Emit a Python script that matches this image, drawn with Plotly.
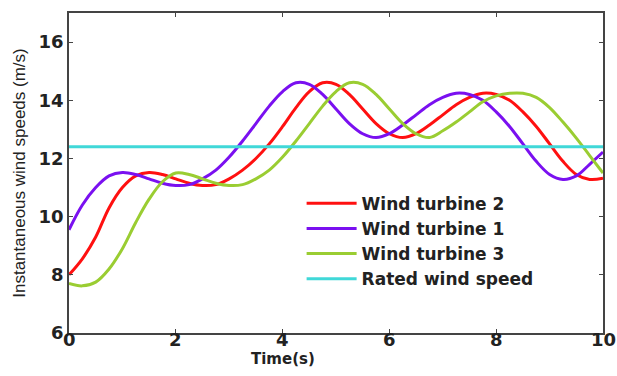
import plotly.graph_objects as go

time_s = [i * 0.25 for i in range(41)]

turbine1 = [9.55, 10.4, 11.0, 11.4, 11.52, 11.45, 11.3, 11.15, 11.07, 11.1,
            11.3, 11.6, 12.05, 12.6, 13.2, 13.8, 14.3, 14.6, 14.55, 14.2,
            13.7, 13.2, 12.85, 12.72, 12.85, 13.15, 13.5, 13.85, 14.1, 14.24,
            14.2, 14.0, 13.6, 13.1, 12.5, 11.9, 11.45, 11.28, 11.4, 11.8, 12.22]

turbine2 = [8.0, 8.55, 9.3, 10.3, 11.0, 11.4, 11.52, 11.45, 11.3, 11.15,
            11.07, 11.1, 11.3, 11.6, 12.0, 12.5, 13.1, 13.75, 14.3, 14.6,
            14.55, 14.2, 13.7, 13.2, 12.85, 12.72, 12.85, 13.15, 13.5, 13.85,
            14.1, 14.24, 14.2, 14.0, 13.6, 13.1, 12.5, 11.9, 11.45, 11.28, 11.32]

turbine3 = [7.7, 7.62, 7.75, 8.2, 8.9, 9.8, 10.6, 11.2, 11.5, 11.45,
            11.3, 11.15, 11.07, 11.1, 11.3, 11.6, 12.05, 12.6, 13.2, 13.8,
            14.3, 14.6, 14.55, 14.2, 13.7, 13.2, 12.85, 12.72, 12.95, 13.25,
            13.6, 13.95, 14.15, 14.24, 14.24, 14.1, 13.75, 13.25, 12.7, 12.1, 11.5]

rated_speed = 12.4

x_ticks = [0, 2, 4, 6, 8, 10]
y_ticks = [6, 8, 10, 12, 14, 16]

TICK_FONT = dict(family="DejaVu Sans", size=18, color="#222")

FIG_W, FIG_H = 617, 376
M_L, M_R, M_T, M_B = 69, 14, 13, 43
PLOT_W = FIG_W - M_L - M_R

fig = go.Figure()
fig.add_trace(go.Scatter(x=time_s, y=turbine2, mode="lines", name="<b>Wind turbine 2</b>",
                         line=dict(color="#ff1010", width=3, shape="spline")))
fig.add_trace(go.Scatter(x=time_s, y=turbine1, mode="lines", name="<b>Wind turbine 1</b>",
                         line=dict(color="#7a10f0", width=3, shape="spline")))
fig.add_trace(go.Scatter(x=time_s, y=turbine3, mode="lines", name="<b>Wind turbine 3</b>",
                         line=dict(color="#9acd32", width=3, shape="spline")))
fig.add_trace(go.Scatter(x=[time_s[0], time_s[-1]], y=[rated_speed, rated_speed], mode="lines",
                         name="<b>Rated wind speed</b>", line=dict(color="#40d8d8", width=3)))

axis_common = dict(showgrid=False, zeroline=False, showline=True, linecolor="#444",
                   linewidth=1.5, mirror="ticks", ticks="inside", ticklen=4,
                   tickcolor="#444", tickfont=TICK_FONT, automargin=False)

annotations = []
for v in x_ticks:
    annotations.append(dict(x=v, xref="x", y=0, yref="paper", yshift=6,
                            text=f"<b>{v}</b>", showarrow=False, xanchor="center",
                            yanchor="top", font=TICK_FONT))
annotations.append(dict(x=(283 - M_L) / PLOT_W, xref="paper", y=0, yref="paper",
                        text="<b>Time(s)</b>", showarrow=False, xanchor="center",
                        yanchor="top", yshift=-15,
                        font=dict(family="DejaVu Sans", size=15, color="#222")))

fig.update_layout(
    width=FIG_W, height=FIG_H,
    margin=dict(l=M_L, r=M_R, t=M_T, b=M_B),
    paper_bgcolor="white", plot_bgcolor="white",
    font=dict(family="Liberation Sans", color="#222"),
    xaxis=dict(range=[0, 10], tickvals=x_ticks, showticklabels=False, **axis_common),
    yaxis=dict(range=[6, 17], tickvals=y_ticks, ticktext=[f"<b>{v}</b>" for v in y_ticks],
               title=dict(text="Instantaneous wind speeds (m/s)",
                          font=dict(family="Liberation Sans", size=17, color="#222"), standoff=9),
               **axis_common),
    legend=dict(x=0.4356, y=0.46, xanchor="left", yanchor="top", bgcolor="rgba(255,255,255,0)",
                font=dict(family="DejaVu Sans", size=17, color="#222"),
                itemwidth=50, tracegroupgap=0),
    annotations=annotations,
    showlegend=True,
)

fig.write_html("out.html", config={"displayModeBar": False},
               post_script="document.body.style.margin='0';document.body.style.overflow='hidden';")
